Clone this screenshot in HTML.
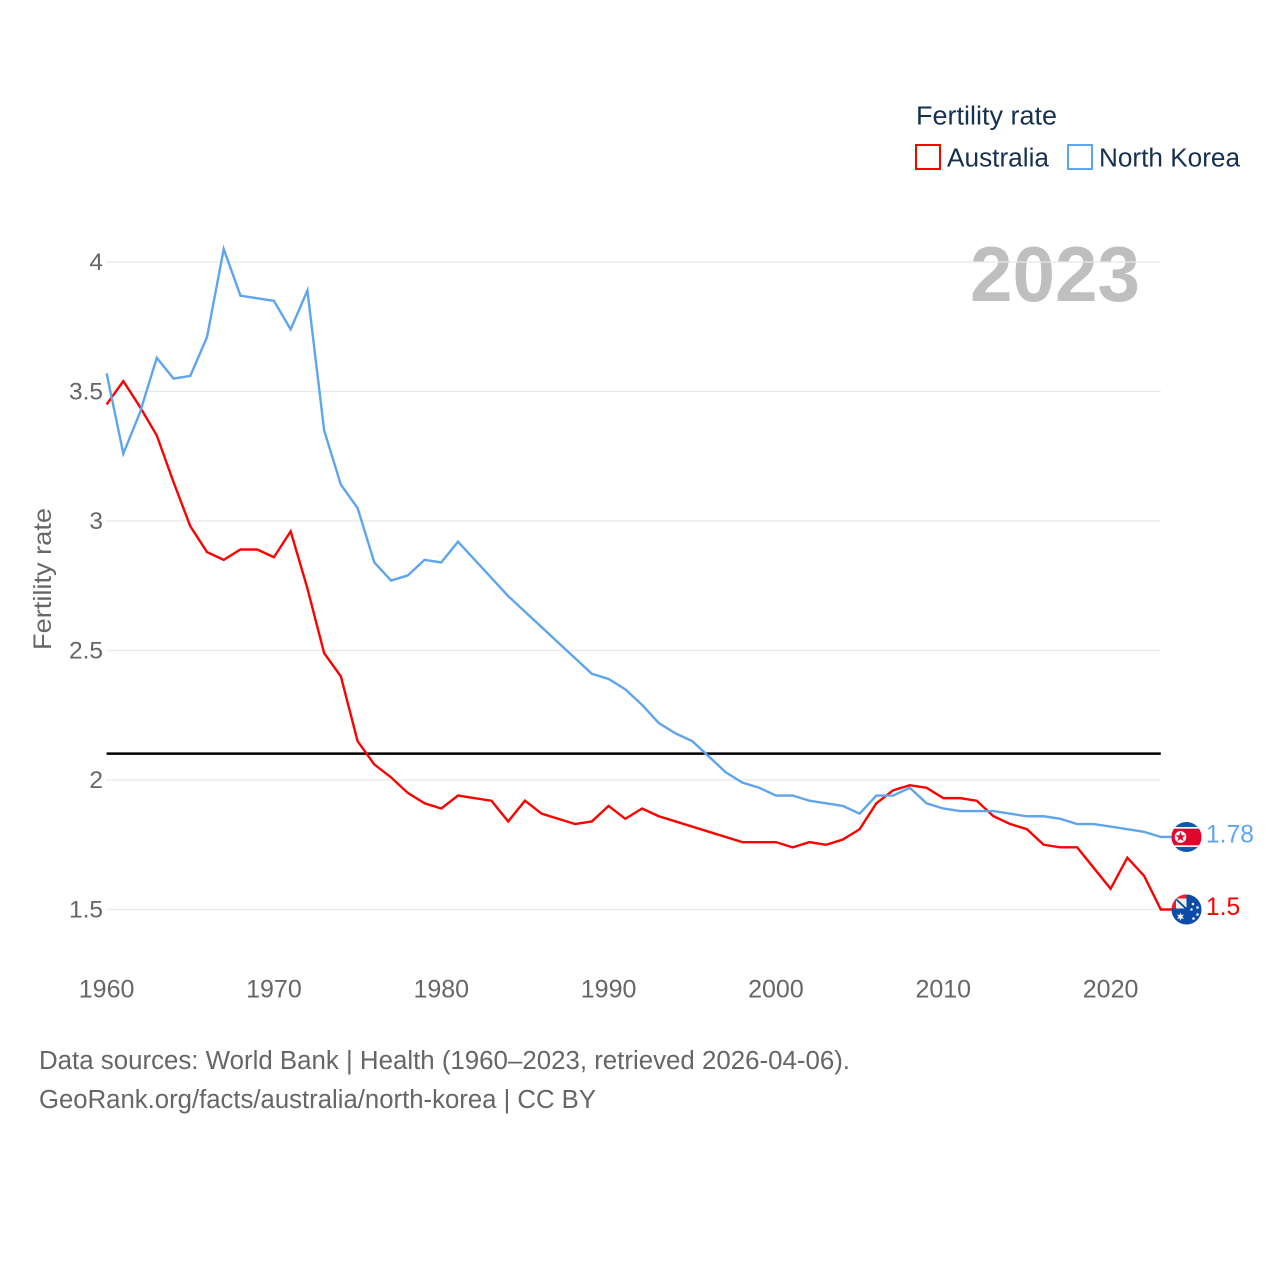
<!DOCTYPE html>
<html lang="en">
<head>
<meta charset="utf-8">
<title>Fertility rate: Australia and North Korea</title>
<style>
html,body{margin:0;padding:0;background:#fff;}
svg{display:block;font-family:"Liberation Sans",sans-serif;}
</style>
</head>
<body>
<svg id="chart" xmlns="http://www.w3.org/2000/svg" width="1280" height="1280" viewBox="0 0 1280 1280">
  <defs>
    <clipPath id="flag-clip"><circle cx="0" cy="0" r="15"></circle></clipPath>
  </defs>
  <rect x="0" y="0" width="1280" height="1280" fill="#ffffff"></rect>
  <text x="970" y="301" font-size="78" font-weight="700" fill="#bfbfbf" textLength="170" lengthAdjust="spacingAndGlyphs">2023</text>
  <g id="grid"></g>
  <g id="y-ticks"></g>
  <g id="x-ticks"></g>
  <text transform="translate(51,650) rotate(-90)" font-size="25" fill="#666666" textLength="142" lengthAdjust="spacingAndGlyphs">Fertility rate</text>
  <g id="series"></g>
  <g id="flag-kp">
    <g clip-path="url(#flag-clip)">
      <rect x="-15" y="-15" width="30" height="30" fill="#0f5aa8"></rect>
      <rect x="-15" y="-10" width="30" height="20" fill="#ffffff"></rect>
      <rect x="-15" y="-8.3" width="30" height="16.6" fill="#e0062e"></rect>
      <circle cx="-6" cy="0" r="5.8" fill="#ffffff"></circle>
      <polygon points="-6,-5.2 -4.8,-1.6 -1,-1.6 -4,0.7 -2.9,4.3 -6,2.1 -9.1,4.3 -8,0.7 -11,-1.6 -7.2,-1.6" fill="#e0062e"></polygon>
    </g>
  </g>
  <g id="flag-au">
    <g clip-path="url(#flag-clip)">
      <rect x="-15" y="-15" width="30" height="30" fill="#0a4ca8"></rect>
      <rect x="-15" y="-15" width="15" height="14" fill="#e8212f"></rect>
      <polygon points="-10.5,-11 0,-11 0,-1 -10.5,-1" fill="#f4f0f2"></polygon>
      <line x1="-10" y1="-10.5" x2="0" y2="-1" stroke="#0a4ca8" stroke-width="2.6"></line>
      <line x1="-9" y1="-11" x2="0" y2="-2.5" stroke="#ffffff" stroke-width="1"></line>
      <polygon points="-6,3 -5.1,5.6 -2.5,5 -4.1,7.2 -2.5,9.4 -5.1,8.8 -6,11.4 -6.9,8.8 -9.5,9.4 -7.9,7.2 -9.5,5 -6.9,5.6" fill="#ffffff"></polygon>
      <circle cx="6.5" cy="-5.5" r="1.3" fill="#ffffff"></circle>
      <circle cx="11" cy="-2" r="1.3" fill="#ffffff"></circle>
      <circle cx="5" cy="0" r="1.2" fill="#ffffff"></circle>
      <circle cx="11" cy="5" r="1.3" fill="#ffffff"></circle>
      <circle cx="7" cy="9" r="1.3" fill="#ffffff"></circle>
    </g>
  </g>
  <g id="value-labels"></g>

  <g>
    <text x="916" y="124.5" font-size="25.5" fill="#16304f" textLength="141" lengthAdjust="spacingAndGlyphs">Fertility rate</text>
    <g>
      <rect x="916" y="145" width="24" height="24" fill="#ffffff" stroke="#ff0000" stroke-width="2"></rect>
      <text x="947" y="166.5" font-size="25.5" fill="#16304f" textLength="102" lengthAdjust="spacingAndGlyphs">Australia</text>
    </g>
    <g>
      <rect x="1068" y="145" width="24" height="24" fill="#ffffff" stroke="#5ea5ee" stroke-width="2"></rect>
      <text x="1099" y="166.5" font-size="25.5" fill="#16304f" textLength="141" lengthAdjust="spacingAndGlyphs">North Korea</text>
    </g>
  </g>

  <text x="39" y="1069" font-size="25.5" fill="#666666" textLength="811" lengthAdjust="spacingAndGlyphs">Data sources: World Bank | Health (1960–2023, retrieved 2026-04-06).</text>
  <text x="39" y="1108" font-size="25.5" fill="#666666" textLength="557" lengthAdjust="spacingAndGlyphs">GeoRank.org/facts/australia/north-korea | CC BY</text>
</svg>

<script>
const startYear = 1960;
const endYear = 2023;
const australiaValues = [3.45,3.54,3.44,3.33,3.15,2.98,2.88,2.85,2.89,2.89,2.86,2.96,2.74,2.49,2.40,2.15,2.06,2.01,1.95,1.91,1.89,1.94,1.93,1.92,1.84,1.92,1.87,1.85,1.83,1.84,1.90,1.85,1.89,1.86,1.84,1.82,1.80,1.78,1.76,1.76,1.76,1.74,1.76,1.75,1.77,1.81,1.91,1.96,1.98,1.97,1.93,1.93,1.92,1.86,1.83,1.81,1.75,1.74,1.74,1.66,1.58,1.70,1.63,1.50];
const northKoreaValues = [3.57,3.26,3.42,3.63,3.55,3.56,3.71,4.05,3.87,3.86,3.85,3.74,3.89,3.35,3.14,3.05,2.84,2.77,2.79,2.85,2.84,2.92,2.85,2.78,2.71,2.65,2.59,2.53,2.47,2.41,2.39,2.35,2.29,2.22,2.18,2.15,2.09,2.03,1.99,1.97,1.94,1.94,1.92,1.91,1.90,1.87,1.94,1.94,1.97,1.91,1.89,1.88,1.88,1.88,1.87,1.86,1.86,1.85,1.83,1.83,1.82,1.81,1.80,1.78];
const yTickValues = [1.5,2,2.5,3,3.5,4];
const xTickValues = [1960,1970,1980,1990,2000,2010,2020];
const replacementRate = 2.1;

const NS = 'http://www.w3.org/2000/svg';
const xLeft = 106.6, xRight = 1160.8, yAt15 = 909.5, yAt4 = 262;
function xScale(year){ return xLeft + (year - startYear) * (xRight - xLeft) / (endYear - startYear); }
function yScale(v){ return yAt15 + (v - 1.5) * (yAt4 - yAt15) / 2.5; }
function make(tag, parent, attrs){
  const el = document.createElementNS(NS, tag);
  for (const k in attrs) el.setAttribute(k, attrs[k]);
  parent.appendChild(el);
  return el;
}
function linePoints(values){
  return values.map(function(v, i){ return xScale(startYear + i).toFixed(2) + ',' + yScale(v).toFixed(2); });
}

const grid = document.getElementById('grid');
const yTicks = document.getElementById('y-ticks');
yTickValues.forEach(function(v){
  const gl = make('line', grid, {x1: xLeft, x2: xRight, y1: yScale(v), y2: yScale(v), stroke: '#e8e8e8', 'stroke-width': 1.2});
  
  
  const t = make('text', yTicks, {x: 103, y: yScale(v) + 8, 'text-anchor': 'end', 'font-size': 24.5, fill: '#666666'});
  
  
  t.textContent = String(v);
});

const xTicks = document.getElementById('x-ticks');
xTickValues.forEach(function(y){
  const t = make('text', xTicks, {x: xScale(y), y: 997.5, 'text-anchor': 'middle', 'font-size': 25, fill: '#666666'});
  
  
  t.textContent = String(y);
});

const series = document.getElementById('series');
const flagX = 1186.5;

const refLine = make('line', series, {x1: xLeft, x2: xRight, y1: yScale(replacementRate) - 0.5, y2: yScale(replacementRate) - 0.5, stroke: '#000000', 'stroke-width': 2.5});



const auPts = linePoints(australiaValues);
auPts.push((flagX - 10) + ',' + yScale(australiaValues[australiaValues.length - 1]).toFixed(2));
const auLine = make('polyline', series, {points: auPts.join(' '), fill: 'none', stroke: '#ff0000', 'stroke-width': 2.4, 'stroke-linejoin': 'miter', 'stroke-miterlimit': 4});



const kpPts = linePoints(northKoreaValues);
kpPts.push((flagX - 10) + ',' + yScale(northKoreaValues[northKoreaValues.length - 1]).toFixed(2));
const kpLine = make('polyline', series, {points: kpPts.join(' '), fill: 'none', stroke: '#5ea5ee', 'stroke-width': 2.4, 'stroke-linejoin': 'miter', 'stroke-miterlimit': 4});



const auLast = australiaValues[australiaValues.length - 1];
const kpLast = northKoreaValues[northKoreaValues.length - 1];
document.getElementById('flag-au').setAttribute('transform', 'translate(' + flagX + ',' + yScale(auLast) + ')');
document.getElementById('flag-kp').setAttribute('transform', 'translate(' + flagX + ',' + yScale(kpLast) + ')');

const labels = document.getElementById('value-labels');
const auLabel = make('text', labels, {x: 1206, y: yScale(auLast) + 5.5, 'font-size': 24.6, fill: '#ff0000'});


auLabel.textContent = String(auLast);
const kpLabel = make('text', labels, {x: 1206, y: yScale(kpLast) + 5.5, 'font-size': 24.6, fill: '#5ea5ee'});


kpLabel.textContent = String(kpLast);
</script>
</body>
</html>
